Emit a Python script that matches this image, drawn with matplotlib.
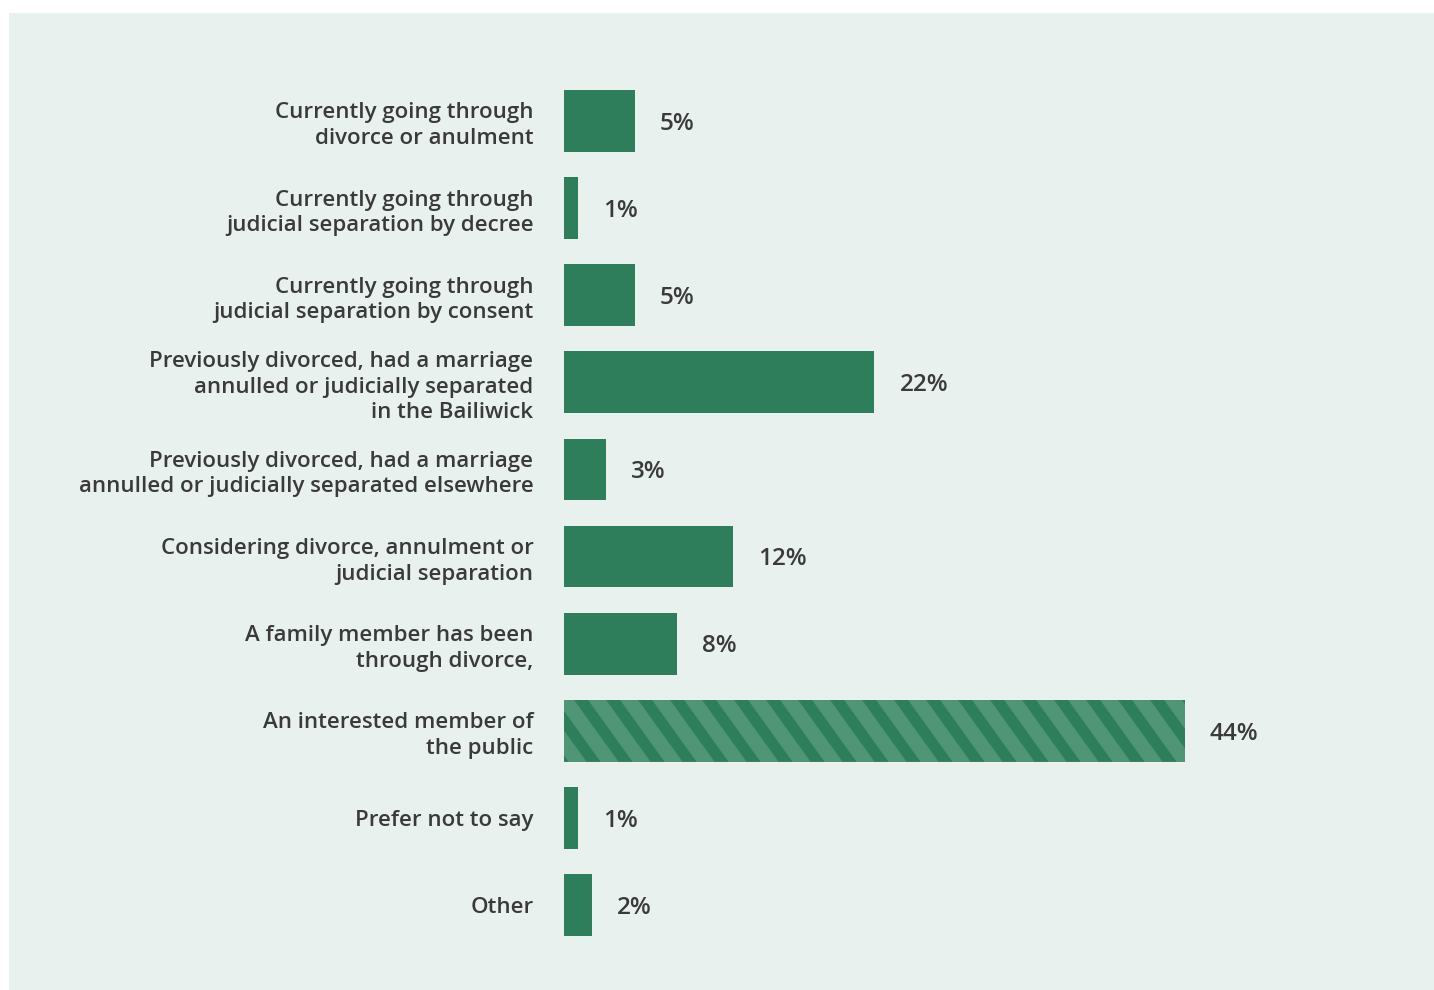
import matplotlib
matplotlib.use("Agg")
import matplotlib.pyplot as plt
from matplotlib.patches import Rectangle, Polygon
from matplotlib.collections import PatchCollection
from matplotlib.transforms import IdentityTransform

# Survey responses (share of respondents, %)
categories = [
    "Currently going through\ndivorce or anulment",
    "Currently going through\njudicial separation by decree",
    "Currently going through\njudicial separation by consent",
    "Previously divorced, had a marriage\nannulled or judicially separated\nin the Bailiwick",
    "Previously divorced, had a marriage\nannulled or judicially separated elsewhere",
    "Considering divorce, annulment or\njudicial separation",
    "A family member has been\nthrough divorce,",
    "An interested member of\nthe public",
    "Prefer not to say",
    "Other",
]
values = [5, 1, 5, 22, 3, 12, 8, 44, 1, 2]
value_labels = ["5%", "1%", "5%", "22%", "3%", "12%", "8%", "44%", "1%", "2%"]
highlighted = [False, False, False, False, False, False, False, True, False, False]

BAR = "#2e7e5c"
BAR_LIGHT = "#4f9576"
PANEL = "#e8f1ee"
TEXT = "#3a3a3a"

plt.rcParams["font.family"] = ["Open Sans", "DejaVu Sans"]

W, H, DPI = 1434, 990, 100
fig = plt.figure(figsize=(W / DPI, H / DPI), dpi=DPI)
fig.patch.set_facecolor("white")

# light panel behind the chart
panel = Rectangle((9 / W, 0), 1 - 9 / W, 1 - 13 / H,
                  transform=fig.transFigure, facecolor=PANEL,
                  edgecolor="none", zorder=-10)
fig.add_artist(panel)

ax_left, ax_right = 564, 1400
ax_top, ax_bot = 60, 966
ax = fig.add_axes([ax_left / W, 1 - ax_bot / H,
                   (ax_right - ax_left) / W, (ax_bot - ax_top) / H])
ax.set_zorder(1)
ax.set_facecolor("none")
ax.set_xlim(0, (ax_right - ax_left) / 14.11)
n = len(categories)
ax.set_ylim(n - 1 + 0.7, -0.7)
for s in ax.spines.values():
    s.set_visible(False)
ax.set_xticks([])
ax.set_yticks(range(n), categories)
ax.tick_params(axis="y", length=0, pad=22, labelsize=16, labelcolor=TEXT)
for lbl in ax.get_yticklabels():
    lbl.set_linespacing(1.28)
    lbl.set_fontweight("semibold")

bar_h = 0.71
bars = ax.barh(range(n), values, height=bar_h,
               color=[BAR_LIGHT if h else BAR for h in highlighted],
               edgecolor="none", zorder=2)

for i, (v, t) in enumerate(zip(values, value_labels)):
    ax.annotate(t, (v, i), xytext=(18, -2), textcoords="offset points",
                ha="left", va="center", fontsize=17.5, fontweight="semibold",
                color=TEXT)

# diagonal stripes on highlighted bars, drawn in pixel space and clipped to the bar
fig.canvas.draw()
period, stripe_w, slope = 32.0, 14.0, 0.72
for bar, h in zip(bars, highlighted):
    if not h:
        continue
    bb = bar.get_window_extent()
    height = bb.y1 - bb.y0
    polys = []
    x0 = bb.x0 + 10 - period * 3
    while x0 < bb.x1 + slope * height + period:
        # stripe runs from upper-left to lower-right
        top_l = x0
        bot_l = x0 + slope * height
        polys.append(Polygon([(top_l, bb.y1), (top_l + stripe_w, bb.y1),
                              (bot_l + stripe_w, bb.y0), (bot_l, bb.y0)]))
        x0 += period
    pc = PatchCollection(polys, facecolor=BAR, edgecolor="none",
                         transform=IdentityTransform(), zorder=3)
    ax.add_collection(pc)
    pc.set_clip_path(bar)

fig.savefig("out.png", dpi=DPI, facecolor=fig.get_facecolor())
